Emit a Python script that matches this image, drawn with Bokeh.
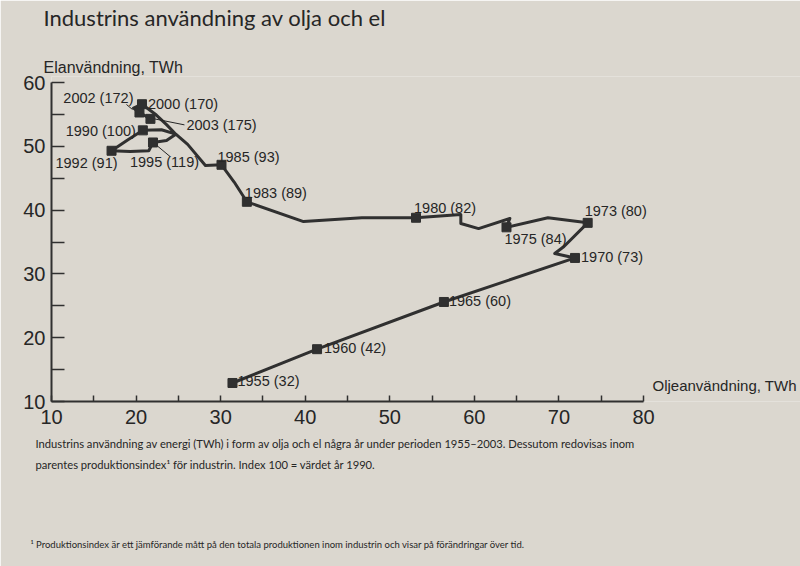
from bokeh.plotting import figure
from bokeh.models import Range1d, Label, ColumnDataSource, FixedTicker, Title
from bokeh.core.properties import value
from bokeh.embed import file_html
from bokeh.resources import INLINE

# ---------------- data ----------------
years = [1955, 1960, 1965, 1970, 1971, 1972, 1973, 1974, 1975, 1976, 1977, 1978,
         1979, 1980, 1981, 1982, 1983, 1984, 1985, 1986, 1987, 1988, 1989, 1990,
         1991, 1992, 1993, 1994, 1995, 1996, 1997, 1998, 1999, 2000, 2001, 2002, 2003]
oil_twh = [31.4, 41.4, 56.4, 71.9, 69.5, 70.6, 73.4, 68.7, 63.8, 64.2, 60.5, 58.4,
           58.4, 53.1, 46.7, 39.8, 33.1, 31.6, 30.1, 28.2, 26.1, 24.7, 23.0, 20.8,
           19.0, 17.1, 19.3, 21.5, 22.0, 23.6, 24.7, 23.6, 22.4, 20.7, 19.7, 20.4, 21.7]
el_twh = [12.9, 18.2, 25.6, 32.5, 33.2, 34.3, 38.0, 38.8, 37.3, 38.7, 37.1, 37.9,
          39.3, 38.8, 38.8, 38.2, 41.3, 44.4, 47.1, 47.0, 50.3, 51.9, 52.6, 52.5,
          51.0, 49.3, 49.2, 49.3, 50.6, 50.9, 51.9, 53.4, 54.9, 56.6, 56.0, 55.3, 54.3]

label_years = [1955, 1960, 1965, 1970, 1973, 1975, 1980, 1983, 1985, 1990, 1992, 1995, 2000, 2002, 2003]
prod_index = [32, 42, 60, 73, 80, 84, 82, 89, 93, 100, 91, 119, 170, 172, 175]

x_ticks = [10, 20, 30, 40, 50, 60, 70, 80]
x_minor = [15, 25, 35, 45, 55, 65, 75]
y_ticks = [10, 20, 30, 40, 50, 60]
y_minor = [15, 25, 35, 45, 55]

title_text = "Industrins användning av olja och el"
y_title = "Elanvändning, TWh"
x_title = "Oljeanvändning, TWh"
caption = ("Industrins användning av energi (TWh) i form av olja och el några år under "
           "perioden 1955–2003. Dessutom redovisas inom\n"
           "parentes produktionsindex¹ för industrin. Index 100 = värdet år 1990.")
footnote = ("¹ Produktionsindex är ett jämförande mått på den totala produktionen inom "
            "industrin och visar på förändringar över tid.")

# ---------------- styles / layout ----------------
lbl_dx = [5, 7, 5, 6, -3, -2, -2, -2, -4, -7, 6, -23, 6, -6, 36]
lbl_dy = [-2, -1, -1, -1, -12, 12, -10, -9, -8, 1, 12, 20, 0, -14, 6]
lbl_align = ["left", "left", "left", "left", "left", "left", "left", "left", "left",
             "right", "right", "left", "left", "right", "left"]
# leader lines (pixel offsets from the marker): year -> (x0, y0, x1, y1)
leaders = {2002: (-13, -8, -7, -3), 2003: (4, 0, 34, 6), 1995: (5, 4, 17, 14)}

BG = "#dbd7cf"
INK = "#262626"
LINE = "#303030"
W, H = 800, 566
AX_LEFT, AX_RIGHT = 51, 643      # pixel x of oil = 10 and oil = 80
AX_BOTTOM, AX_TOP = 401, 82      # pixel y of el = 10 and el = 60
FRAME_TOP = 76
X0, X1 = 10, 80
Y0, Y1 = 10, 60
px_x = (AX_RIGHT - AX_LEFT) / (X1 - X0)
px_y = (AX_BOTTOM - AX_TOP) / (Y1 - Y0)
x_end = X0 + (W - AX_LEFT) / px_x
y_end = Y0 + (AX_BOTTOM - FRAME_TOP) / px_y

p = figure(width=W, height=H, output_backend="svg", toolbar_location=None,
           x_range=Range1d(X0, x_end), y_range=Range1d(Y0, y_end),
           min_border_left=AX_LEFT, min_border_right=0, min_border_top=FRAME_TOP,
           min_border_bottom=H - AX_BOTTOM)
p.background_fill_color = BG
p.border_fill_color = BG
p.outline_line_color = None
p.grid.visible = False

for ax, ticks, minor, tick_len, bnds in ((p.xaxis, x_ticks, x_minor, 6, (X0, X1)),
                                         (p.yaxis, y_ticks, y_minor, 13, (Y0, Y1))):
    ax.ticker = FixedTicker(ticks=ticks, minor_ticks=minor)
    ax.bounds = bnds
    ax.axis_line_color = LINE
    ax.axis_line_width = 2
    ax.major_tick_line_color = LINE
    ax.minor_tick_line_color = LINE
    ax.major_tick_line_width = 1.5
    ax.minor_tick_line_width = 1.5
    ax.major_tick_in = tick_len
    ax.major_tick_out = 0
    ax.minor_tick_in = tick_len
    ax.minor_tick_out = 0
    ax.major_label_text_font = "Liberation Sans"
    ax.major_label_text_font_size = "20px"
    ax.major_label_text_color = INK
p.xaxis.major_label_standoff = 8
p.yaxis.major_label_standoff = 6

# the path
p.line(oil_twh, el_twh, line_width=3, color=LINE, line_join="round")

# markers and labels
lx = [oil_twh[years.index(y)] for y in label_years]
ly = [el_twh[years.index(y)] for y in label_years]
src = ColumnDataSource(dict(
    x=lx, y=ly,
    text=[f"{y} ({i})" for y, i in zip(label_years, prod_index)],
    dx=lbl_dx, dy=lbl_dy, align=lbl_align))
p.scatter("x", "y", source=src, marker="square", size=9, color=LINE)
p.text("x", "y", text="text", source=src, x_offset="dx", y_offset="dy",
       text_align="align", text_baseline="middle",
       text_font=value("Liberation Sans"), text_font_size="14.5px", text_color=INK)

# leader lines
sx0, sy0, sx1, sy1 = [], [], [], []
for yr, (a, b, c, d) in leaders.items():
    i = years.index(yr)
    sx0.append(oil_twh[i] + a / px_x); sy0.append(el_twh[i] - b / px_y)
    sx1.append(oil_twh[i] + c / px_x); sy1.append(el_twh[i] - d / px_y)
p.segment(sx0, sy0, sx1, sy1, line_width=1, color=INK)

# axis title at the right end of the x axis (inside the frame)
p.add_layout(Label(x=652, y=385, x_units="canvas", y_units="canvas", text=x_title,
                   text_baseline="middle", text_align="left",
                   text_font="Liberation Sans", text_font_size="15px", text_color=INK))


def side_title(txt, place, size, stand, off=-8, font="Lato", lh=1.2):
    p.add_layout(Title(text=txt, align="left", offset=off, standoff=stand,
                       text_font=font, text_font_size=size, text_font_style="normal",
                       text_line_height=lh, text_color=INK), place)


# headings above the frame (first added sits closest to the frame)
side_title(y_title, "above", "16px", 2, font="Liberation Sans")
side_title(" ", "above", "1px", 22)
side_title(title_text, "above", "22px", 0)

# captions below the chart
side_title(caption, "below", "11.2px", 17, off=-16, lh=1.6)
side_title(" ", "below", "1px", 54)
side_title(footnote, "below", "9.5px", 0, off=-21)

open("out.html", "w").write(file_html(p, INLINE))
